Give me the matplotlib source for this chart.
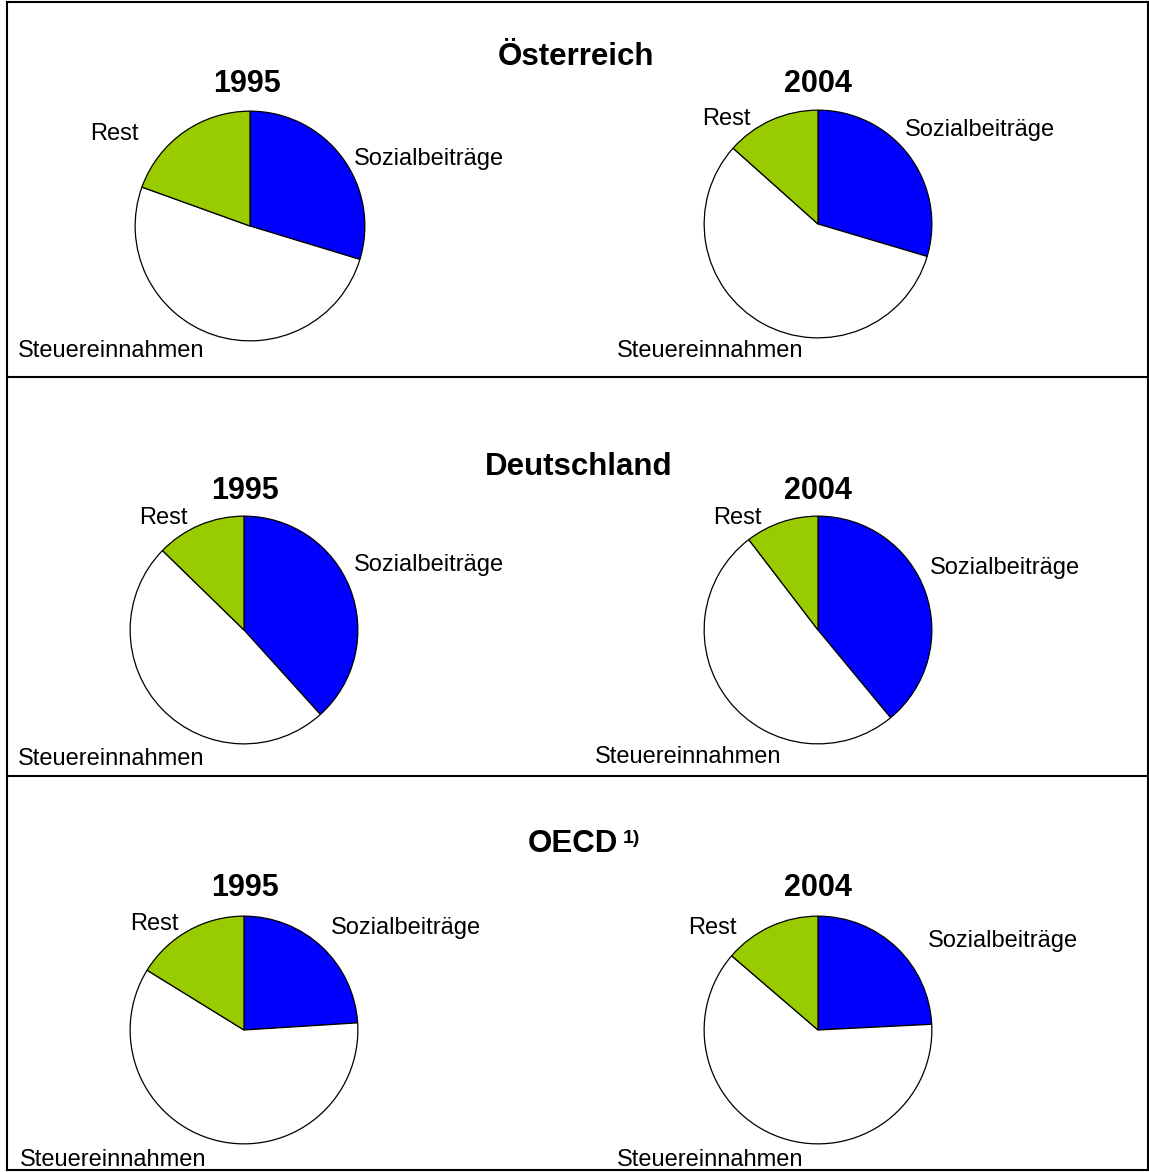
import matplotlib.pyplot as plt
from matplotlib.lines import Line2D

W, H = 1149, 1172

# shares in %: Sozialbeiträge, Steuereinnahmen, Rest
categories = ['Sozialbeiträge', 'Steuereinnahmen', 'Rest']
regions = ['Österreich', 'Deutschland', 'OECD']
years = ['1995', '2004']
oesterreich = [[29.7, 50.8, 19.5], [29.6, 57.0, 13.4]]
deutschland = [[38.3, 49.0, 12.7], [39.0, 50.6, 10.4]]
oecd = [[24.0, 59.8, 16.2], [24.2, 62.1, 13.7]]
colors = ['#0000FF', '#FFFFFF', '#99CC00']

plt.rcParams['font.family'] = ['Liberation Sans', 'DejaVu Sans']

fig = plt.figure(figsize=(W / 100, H / 100), dpi=100)

# pie layout in pixels (center x, center y, radius)
pie_pos = [
    [(250, 226, 116), (818, 224, 115)],
    [(244, 630, 115), (818, 630, 115)],
    [(244, 1030, 115), (818, 1030, 115)],
]

# label positions (x, baseline y, ha) for Sozialbeiträge, Steuereinnahmen, Rest
label_pos = [
    [[(354, 165, 'left'), (18, 357, 'left'), (114, 140, 'center')],
     [(905, 136, 'left'), (617, 357, 'left'), (726, 125, 'center')]],
    [[(354, 571, 'left'), (18, 765, 'left'), (163, 524, 'center')],
     [(930, 574, 'left'), (595, 763, 'left'), (737, 524, 'center')]],
    [[(331, 934, 'left'), (20, 1166, 'left'), (154, 930, 'center')],
     [(928, 947, 'left'), (617, 1166, 'left'), (712, 934, 'center')]],
]

data = [oesterreich, deutschland, oecd]
for r in range(3):
    for c in range(2):
        cx, cy, rad = pie_pos[r][c]
        ax = fig.add_axes([(cx - rad) / W, (H - cy - rad) / H, 2 * rad / W, 2 * rad / H])
        ax.pie(data[r][c], colors=colors, startangle=90, counterclock=False,
               radius=1, wedgeprops=dict(edgecolor='black', linewidth=0.9))
        ax.set_xlim(-1.01, 1.01)
        ax.set_ylim(-1.01, 1.01)
        ax.axis('off')

# overlay for text and frame lines, pixel coordinates
ov = fig.add_axes([0, 0, 1, 1], facecolor='none')
ov.set_xlim(0, W)
ov.set_ylim(H, 0)
ov.axis('off')

for r in range(3):
    for c in range(2):
        for k, name in enumerate(categories):
            x, y, ha = label_pos[r][c][k]
            ov.text(x, y, name, fontsize=17, ha=ha, va='baseline')

# titles
ov.text(576, 65, 'Österreich', fontsize=22.5, fontweight='bold', ha='center', va='baseline')
ov.text(579, 475, 'Deutschland', fontsize=22.5, fontweight='bold', ha='center', va='baseline')
ov.text(528, 852, 'OECD', fontsize=22.5, fontweight='bold', ha='left', va='baseline')
ov.text(623, 843, '1)', fontsize=14, fontweight='bold', ha='left', va='baseline')

year_base = [92, 499, 896]
year_x = [[247, 818], [245, 818], [245, 818]]
for r in range(3):
    for c in range(2):
        ov.text(year_x[r][c], year_base[r], years[c], fontsize=22, fontweight='bold',
                ha='center', va='baseline')

# frame
lw = 1.5
for (x0, y0, x1, y1) in [(7, 2, 1150, 2), (7, 1170, 1150, 1170), (7, 2, 7, 1170),
                         (1148, 2, 1148, 1170), (7, 377, 1150, 377), (7, 776, 1150, 776)]:
    ov.add_line(Line2D([x0, x1], [y0, y1], color='black', linewidth=lw))

fig.savefig('out.png', dpi=100)
